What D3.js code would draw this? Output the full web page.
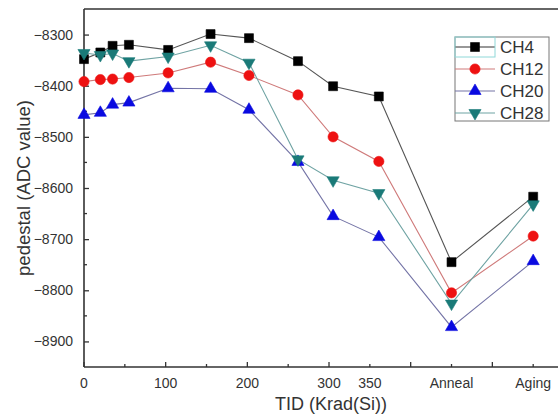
<!DOCTYPE html>
<html>
<head>
<meta charset="utf-8">
<script src="https://cdn.jsdelivr.net/npm/d3@7/dist/d3.min.js"></script>
<style>
  html, body { margin: 0; padding: 0; background: #fff; }
  svg { display: block; }
  text { font-family: "Liberation Sans", Arial, sans-serif; fill: #333; }
</style>
</head>
<body>
<svg id="chart" width="558" height="415"></svg>
<script>
// TID position of each measurement (Anneal and Aging sit at 450 and 550)
const doses = [0, 20, 35, 55, 103, 155, 202, 262, 305, 361, 450, 550];

// Pedestal (ADC value) per channel
const ch4  = [-8348, -8335, -8322, -8320, -8330, -8299, -8307, -8352, -8401, -8421, -8745, -8617];
const ch12 = [-8392, -8388, -8387, -8384, -8375, -8354, -8380, -8418, -8500, -8548, -8805, -8694];
const ch20 = [-8457, -8453, -8437, -8433, -8405, -8406, -8447, -8549, -8655, -8696, -8872, -8743];
const ch28 = [-8336, -8340, -8337, -8352, -8343, -8321, -8355, -8544, -8585, -8610, -8826, -8632];

const seriesNames = ["CH4", "CH12", "CH20", "CH28"];

// x tick labels: position -> text
const xTickValues = [0, 100, 200, 300, 350, 450, 550];
const xTickLabels = ["0", "100", "200", "300", "350", "Anneal", "Aging"];
const yTickValues = [-8900, -8800, -8700, -8600, -8500, -8400, -8300];

const svg = d3.select("#chart");
const plot = { left: 84, top: 9, right: 558, bottom: 367 };

const x = d3.scaleLinear().domain([0, 580]).range([plot.left, plot.left + 580 * 0.8167]);
const y = d3.scaleLinear().domain([-8950, -8250]).range([plot.bottom, plot.top]);

const styles = [
  { line: "#555555", fill: "#000000", symbol: d3.symbolSquare, size: 80, rot: 0 },
  { line: "#cf7a7a", fill: "#ee1111", symbol: d3.symbolCircle, size: 82, rot: 0 },
  { line: "#7474a6", fill: "#0a0ae0", symbol: d3.symbolTriangle, size: 64, rot: 0 },
  { line: "#6fa3a3", fill: "#1a7a78", symbol: d3.symbolTriangle, size: 64, rot: 180 }
];
const seriesValues = [ch4, ch12, ch20, ch28];

// frame: top edge and axes
const axisColor = "#333";
svg.append("line").attr("x1", plot.left).attr("x2", 560).attr("y1", plot.top).attr("y2", plot.top)
  .attr("stroke", axisColor).attr("stroke-width", 1.6);

// y axis with inward ticks
const yAxis = d3.axisLeft(y).tickValues(yTickValues).tickSize(-5).tickPadding(11)
  .tickFormat(d3.format("d"));
const gy = svg.append("g").attr("transform", `translate(${plot.left},0)`).call(yAxis);
gy.select(".domain").remove();
gy.selectAll(".tick line").attr("stroke", axisColor).attr("stroke-width", 1.3);
gy.selectAll(".tick text").attr("font-size", 14).style("fill", "#333")
  .attr("font-family", "Liberation Sans, Arial, sans-serif");
svg.append("line").attr("x1", plot.left).attr("x2", plot.left).attr("y1", plot.top).attr("y2", plot.bottom)
  .attr("stroke", axisColor).attr("stroke-width", 1.6);
// y minor ticks
const yMinor = d3.range(-8950, -8250, 100).filter(v => v > -8950);
svg.append("g").selectAll("line").data(yMinor).join("line")
  .attr("x1", plot.left).attr("x2", plot.left + 3).attr("y1", d => y(d)).attr("y2", d => y(d))
  .attr("stroke", axisColor).attr("stroke-width", 1.3);

// x axis with inward ticks
const xMajor = [0, 100, 200, 300, 400, 500];
const xMinor = [50, 150, 250, 350, 450, 550];
const gx = svg.append("g");
gx.append("line").attr("x1", plot.left).attr("x2", 560).attr("y1", plot.bottom).attr("y2", plot.bottom)
  .attr("stroke", axisColor).attr("stroke-width", 1.6);
gx.selectAll("line.major").data(xMajor).join("line").attr("class", "major")
  .attr("x1", d => x(d)).attr("x2", d => x(d)).attr("y1", plot.bottom).attr("y2", plot.bottom - 5)
  .attr("stroke", axisColor).attr("stroke-width", 1.3);
gx.selectAll("line.minor").data(xMinor).join("line").attr("class", "minor")
  .attr("x1", d => x(d)).attr("x2", d => x(d)).attr("y1", plot.bottom).attr("y2", plot.bottom - 3)
  .attr("stroke", axisColor).attr("stroke-width", 1.3);
gx.selectAll("text").data(xTickValues).join("text")
  .attr("x", d => x(d)).attr("y", 387.5).attr("text-anchor", "middle")
  .attr("font-size", 14).text((d, i) => xTickLabels[i]);

// axis titles
svg.append("text").attr("x", 331).attr("y", 409.5).attr("text-anchor", "middle")
  .attr("font-size", 18).text("TID (Krad(Si))");
svg.append("text").attr("transform", `translate(30,188) rotate(-90)`).attr("text-anchor", "middle")
  .attr("font-size", 18.5).text("pedestal (ADC value)");

// series lines and markers
const line = d3.line().x((d, i) => x(doses[i])).y(d => y(d));
seriesValues.forEach((vals, k) => {
  const st = styles[k];
  svg.append("path").datum(vals).attr("d", line)
    .attr("fill", "none").attr("stroke", st.line).attr("stroke-width", 1.1);
});
seriesValues.forEach((vals, k) => {
  const st = styles[k];
  const sym = d3.symbol().type(st.symbol).size(st.size);
  svg.append("g").selectAll("path").data(vals).join("path")
    .attr("d", sym)
    .attr("transform", (d, i) => `translate(${x(doses[i])},${y(d)}) rotate(${st.rot})`)
    .attr("fill", st.fill).attr("stroke", st.fill).attr("stroke-width", 0.6);
});

// legend
const lg = svg.append("g");
const lx = 455, ly = 37, lw = 94, lh = 84, rowH = 22;
lg.append("rect").attr("x", lx).attr("y", ly).attr("width", lw).attr("height", lh)
  .attr("fill", "#fff").attr("stroke", "#777").attr("stroke-width", 1);
seriesNames.forEach((name, k) => {
  const st = styles[k];
  const cy = ly + 10 + k * rowH;
  lg.append("line").attr("x1", lx).attr("x2", lx + 40).attr("y1", cy).attr("y2", cy)
    .attr("stroke", k === 0 ? "#333" : st.line).attr("stroke-width", 1.1);
  lg.append("path").attr("d", d3.symbol().type(st.symbol).size(st.size)())
    .attr("transform", `translate(${lx + 20},${cy}) rotate(${st.rot})`)
    .attr("fill", st.fill).attr("stroke", st.fill).attr("stroke-width", 0.6);
  lg.append("text").attr("x", lx + 45).attr("y", cy + 6).attr("font-size", 17).text(name);
});
// highlight box round the first legend sample
lg.append("rect").attr("x", lx).attr("y", ly).attr("width", 40).attr("height", 20)
  .attr("fill", "none").attr("stroke", "#8fd8d8").attr("stroke-width", 1);
</script>
</body>
</html>
